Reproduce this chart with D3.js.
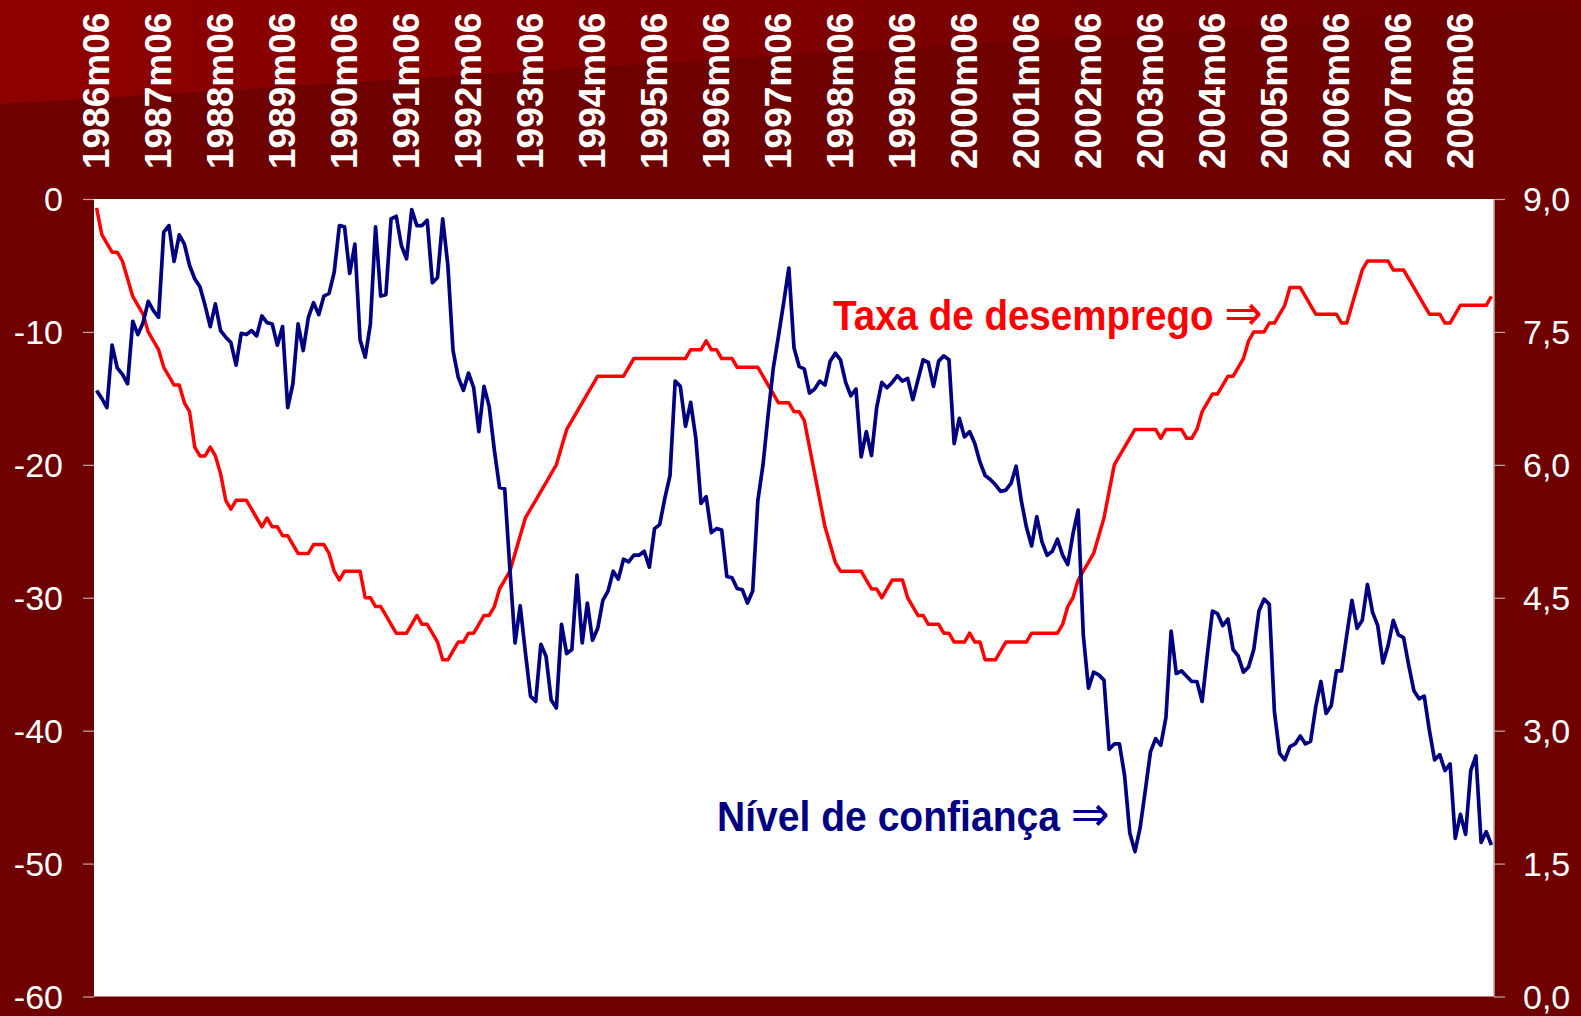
<!DOCTYPE html>
<html><head><meta charset="utf-8">
<script src="https://cdn.jsdelivr.net/npm/d3@7/dist/d3.min.js"></script>
<style>
html,body{margin:0;padding:0;background:#6e0000;overflow:hidden;}
svg{display:block;}
</style></head>
<body>
<svg id="chart" width="1581" height="1016"></svg>
<script>
// ---- data ----
const startYear = 1986, startMonth = 6, nMonths = 271;
const categories = [];
for (let k = 0; k < nMonths; k++) {
  const m = startMonth - 1 + k;
  const yy = startYear + Math.floor(m / 12), mm = (m % 12) + 1;
  categories.push(yy + "m" + String(mm).padStart(2, "0"));
}
const tickLabels = ["1986m06","1987m06","1988m06","1989m06","1990m06","1991m06","1992m06","1993m06",
  "1994m06","1995m06","1996m06","1997m06","1998m06","1999m06","2000m06","2001m06","2002m06",
  "2003m06","2004m06","2005m06","2006m06","2007m06","2008m06"];
const leftTicks = [0,-10,-20,-30,-40,-50,-60];
const leftTickLabels = ["0","-10","-20","-30","-40","-50","-60"];
const rightTicks = [9,7.5,6,4.5,3,1.5,0];
const rightTickLabels = ["9,0","7,5","6,0","4,5","3,0","1,5","0,0"];

// Nível de confiança (left axis)
const confianca = [
-14.4,-15.0,-15.7,-11.0,-12.7,-13.2,-13.9,-9.2,-10.2,-9.3,-7.7,-8.4,-8.9,-2.5,-2.0,-4.7,-2.7,-3.4,-5.0,-6.0,
-6.6,-8.0,-9.6,-7.9,-9.9,-10.4,-10.8,-12.5,-10.1,-10.2,-9.9,-10.3,-8.8,-9.3,-9.4,-11.0,-9.6,-15.7,-13.9,-9.4,
-11.4,-8.9,-7.8,-8.7,-7.3,-7.1,-5.5,-2.0,-2.1,-5.6,-3.4,-10.6,-11.9,-9.4,-2.1,-7.3,-7.2,-1.5,-1.3,-3.5,
-4.5,-0.8,-2.0,-2.0,-1.6,-6.3,-5.9,-1.5,-5.0,-11.4,-13.4,-14.4,-13.1,-14.2,-17.5,-14.1,-15.6,-18.9,-21.7,-21.8,
-27.8,-33.4,-30.6,-34.1,-37.4,-37.8,-33.5,-34.4,-37.7,-38.3,-32.0,-34.2,-33.9,-28.3,-33.4,-30.4,-33.2,-32.3,-30.2,-29.5,
-28.0,-28.6,-27.1,-27.3,-26.8,-26.8,-26.5,-27.7,-24.8,-24.5,-22.5,-20.8,-13.7,-14.1,-17.1,-15.3,-18.0,-22.9,-22.4,-25.1,
-24.8,-24.9,-28.4,-28.5,-29.3,-29.4,-30.4,-29.5,-22.7,-20.0,-16.2,-12.7,-10.3,-7.8,-5.2,-11.2,-12.6,-12.8,-14.6,-14.3,
-13.7,-14.0,-12.2,-11.6,-12.1,-13.8,-14.8,-14.3,-19.4,-17.5,-19.3,-15.7,-13.8,-14.2,-13.8,-13.3,-13.7,-13.5,-15.1,-13.6,
-12.1,-12.3,-14.1,-12.2,-11.8,-12.1,-18.4,-16.5,-17.9,-17.5,-18.4,-19.8,-20.8,-21.1,-21.5,-22.0,-21.9,-21.4,-20.1,-22.7,
-24.7,-26.1,-23.9,-25.8,-26.8,-26.5,-25.6,-26.8,-27.5,-25.2,-23.4,-32.8,-36.8,-35.6,-35.8,-36.2,-41.4,-41.0,-41.0,-43.4,
-47.7,-49.1,-47.3,-44.5,-41.6,-40.6,-41.1,-39.0,-32.5,-35.7,-35.5,-35.9,-36.3,-36.3,-37.8,-34.3,-31.0,-31.2,-32.1,-31.6,
-33.9,-34.4,-35.6,-35.2,-33.9,-31.0,-30.1,-30.5,-38.6,-41.7,-42.2,-41.2,-41.0,-40.4,-41.0,-40.8,-38.2,-36.3,-38.7,-38.1,
-35.5,-35.5,-32.8,-30.2,-32.3,-31.7,-29.0,-31.1,-32.1,-34.9,-33.6,-31.7,-32.8,-33.0,-35.1,-37.0,-37.6,-37.4,-40.0,-42.2,
-41.8,-43.0,-42.5,-48.1,-46.3,-47.8,-43.0,-41.9,-48.4,-47.6,-48.6];

// Taxa de desemprego (right axis)
const desemprego = [
8.9,8.6,8.5,8.4,8.4,8.3,8.1,7.9,7.8,7.7,7.5,7.4,7.3,7.1,7.0,6.9,6.9,6.7,6.6,6.2,
6.1,6.1,6.2,6.1,5.9,5.6,5.5,5.6,5.6,5.6,5.5,5.4,5.3,5.4,5.3,5.3,5.2,5.2,5.1,5.0,
5.0,5.0,5.1,5.1,5.1,5.0,4.8,4.7,4.8,4.8,4.8,4.8,4.5,4.5,4.4,4.4,4.3,4.2,4.1,4.1,
4.1,4.2,4.3,4.2,4.2,4.1,4.0,3.8,3.8,3.9,4.0,4.0,4.1,4.1,4.2,4.3,4.3,4.4,4.6,4.7,
4.8,5.0,5.2,5.4,5.5,5.6,5.7,5.8,5.9,6.0,6.2,6.4,6.5,6.6,6.7,6.8,6.9,7.0,7.0,7.0,
7.0,7.0,7.0,7.1,7.2,7.2,7.2,7.2,7.2,7.2,7.2,7.2,7.2,7.2,7.2,7.3,7.3,7.3,7.4,7.3,
7.3,7.2,7.2,7.2,7.1,7.1,7.1,7.1,7.1,7.0,6.9,6.8,6.7,6.7,6.7,6.6,6.6,6.5,6.2,5.9,
5.6,5.3,5.1,4.9,4.8,4.8,4.8,4.8,4.8,4.7,4.6,4.6,4.5,4.6,4.7,4.7,4.7,4.5,4.4,4.3,
4.3,4.2,4.2,4.2,4.1,4.1,4.0,4.0,4.0,4.1,4.0,4.0,3.8,3.8,3.8,3.9,4.0,4.0,4.0,4.0,
4.0,4.1,4.1,4.1,4.1,4.1,4.1,4.2,4.4,4.5,4.7,4.8,4.9,5.0,5.2,5.4,5.7,6.0,6.1,6.2,
6.3,6.4,6.4,6.4,6.4,6.4,6.3,6.4,6.4,6.4,6.4,6.3,6.3,6.4,6.6,6.7,6.8,6.8,6.9,7.0,
7.0,7.1,7.2,7.4,7.5,7.5,7.5,7.6,7.6,7.7,7.8,8.0,8.0,8.0,7.9,7.8,7.7,7.7,7.7,7.7,
7.7,7.6,7.6,7.8,8.0,8.2,8.3,8.3,8.3,8.3,8.3,8.2,8.2,8.2,8.1,8.0,7.9,7.8,7.7,7.7,
7.7,7.6,7.6,7.7,7.8,7.8,7.8,7.8,7.8,7.8,7.9];

const labelTaxa = "Taxa de desemprego";
const labelConf = "Nível de confiança";
const arrowGlyph = "\u21D2";

// ---- drawing ----
const svg = d3.select("#chart");
const W = 1581, H = 1016;
const plot = {left: 94, right: 1494, top: 199, bottom: 996.5};

const defs = svg.append("defs");
const grad = defs.append("linearGradient").attr("id","topGrad").attr("x1","0").attr("y1","0").attr("x2","1").attr("y2","0");
grad.append("stop").attr("offset","0").attr("stop-color","#8e0000");
grad.append("stop").attr("offset","0.6").attr("stop-color","#7c0000");
grad.append("stop").attr("offset","1").attr("stop-color","#700000");

svg.append("rect").attr("width",W).attr("height",H).attr("fill","#6e0000");
svg.append("polygon").attr("points","0,0 1581,0 1581,6 0,104").attr("fill","url(#topGrad)");

svg.append("rect").attr("x",plot.left).attr("y",plot.top)
  .attr("width",plot.right-plot.left).attr("height",plot.bottom-plot.top).attr("fill","#ffffff");

const x = d3.scaleBand().domain(categories).range([plot.left, plot.right]).padding(0);
const cx = c => x(c) + x.bandwidth()/2;
const yL = d3.scaleLinear().domain([-60,0]).range([plot.bottom, plot.top]);
const yR = d3.scaleLinear().domain([0,9]).range([plot.bottom, plot.top]);

// left axis
const axL = svg.append("g").attr("transform",`translate(${plot.left},0)`)
  .call(d3.axisLeft(yL).tickValues(leftTicks).tickSize(11).tickPadding(20)
    .tickFormat((d,i) => leftTickLabels[i]));
axL.select(".domain").remove();
axL.selectAll(".tick line").attr("stroke","#c8a6a6").attr("stroke-width",1.2);
axL.selectAll(".tick text").attr("fill","#ffffff").attr("font-size",34)
  .attr("font-family","Liberation Sans, Arial, sans-serif").attr("dy","0.35em");

// right axis
const axR = svg.append("g").attr("transform",`translate(${plot.right},0)`)
  .call(d3.axisRight(yR).tickValues(rightTicks).tickSize(11).tickPadding(18)
    .tickFormat((d,i) => rightTickLabels[i]));
axR.select(".domain").attr("stroke","#c8a6a6").attr("stroke-width",1.5).attr("d",`M0,${plot.top}V${plot.bottom}`);
axR.selectAll(".tick line").attr("stroke","#c8a6a6").attr("stroke-width",1.2);
axR.selectAll(".tick text").attr("fill","#ffffff").attr("font-size",34)
  .attr("font-family","Liberation Sans, Arial, sans-serif").attr("dy","0.35em");

// top category labels
svg.append("g").selectAll("text").data(tickLabels).join("text")
  .attr("transform", d => `translate(${cx(d)},169) rotate(-90)`)
  .attr("text-anchor","start").attr("dominant-baseline","central")
  .attr("fill","#ffffff").attr("font-weight","bold").attr("font-size",37)
  .attr("font-family","Liberation Sans, Arial, sans-serif")
  .text(d => d);

// lines
const lineL = d3.line().x((d,i) => cx(categories[i])).y(d => yL(d));
const lineR = d3.line().x((d,i) => cx(categories[i])).y(d => yR(d));

svg.append("path").datum(desemprego).attr("d",lineR).attr("fill","none")
  .attr("stroke","#ff0000").attr("stroke-width",3.5).attr("stroke-linejoin","round");
svg.append("path").datum(confianca).attr("d",lineL).attr("fill","none")
  .attr("stroke","#000080").attr("stroke-width",3.7).attr("stroke-linejoin","round");

// annotations (label + arrow in one text element, horizontally condensed)
function annot(txt, xPos, yBase, targetWidth, color) {
  const g = svg.append("g");
  const t = g.append("text").attr("x",0).attr("y",0)
    .attr("fill",color).attr("font-weight","bold").attr("font-size",42)
    .attr("font-family","Liberation Sans, Arial, sans-serif");
  t.append("tspan").text(txt + " ");
  t.append("tspan").attr("font-weight","normal").attr("font-size",50)
    .attr("font-family","DejaVu Sans, sans-serif").text(arrowGlyph);
  const natural = t.node().getComputedTextLength();
  const sx = targetWidth / natural;
  g.attr("transform", `translate(${xPos},${yBase}) scale(${sx},1)`);
}
annot(labelTaxa, 833, 330, 430, "#ff0000");
annot(labelConf, 717, 831, 393, "#000080");
</script>
</body></html>
